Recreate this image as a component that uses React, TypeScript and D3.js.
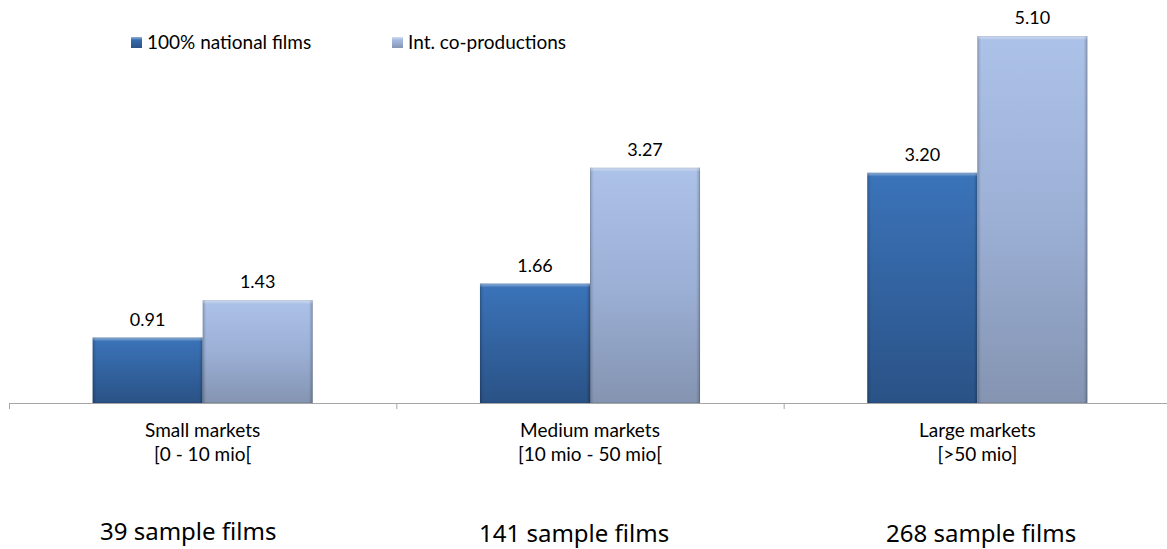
import React from "react";
import * as d3 from "d3";

const categories = ["Small markets", "Medium markets", "Large markets"];
const categoryRanges = ["[0 - 10 mio[", "[10 mio - 50 mio[", "[>50 mio]"];
const seriesNames = ["100% national films", "Int. co-productions"];
const nationalValues = [0.91, 1.66, 3.2];
const coproValues = [1.43, 3.27, 5.1];
const sampleLabels = ["39 sample films", "141 sample films", "268 sample films"];

const W = 1167;
const H = 549;
const LABEL_FONT = "Lato, 'Open Sans', sans-serif";

export default function App() {
  const x0 = d3.scaleBand<string>().domain(categories).range([9, 1171]).paddingInner(0).paddingOuter(0);
  const x1 = d3
    .scaleBand<string>()
    .domain(seriesNames)
    .range([0, x0.bandwidth()])
    .paddingInner(0)
    .paddingOuter(0.76);
  const maxV = d3.max([...nationalValues, ...coproValues]) as number;
  const y = d3.scaleLinear().domain([0, maxV]).range([403, 36]);

  const seriesValues = [nationalValues, coproValues];
  const gradIds = ["gNat", "gCo"];
  const bw = x1.bandwidth();
  const baseY = y(0);
  const ticks = [...categories.map((c) => x0(c) as number), (x0(categories[2]) as number) + x0.bandwidth()];
  const sampleX = [100, 479, 886];
  const sampleY = [540, 542, 542];

  return (
    <svg
      width={W}
      height={H}
      style={{ position: "absolute", left: 0, top: 0, background: "#fff" }}
    >
      <defs>
        <linearGradient id="gNat" x1="0" y1="0" x2="0" y2="1">
          <stop offset="0" stopColor="#3b74ba" />
          <stop offset="1" stopColor="#2a5286" />
        </linearGradient>
        <linearGradient id="gCo" x1="0" y1="0" x2="0" y2="1">
          <stop offset="0" stopColor="#adc2e8" />
          <stop offset="0.5" stopColor="#9cb0d6" />
          <stop offset="1" stopColor="#8494b1" />
        </linearGradient>
        <linearGradient id="sideShade" x1="0" y1="0" x2="1" y2="0">
          <stop offset="0" stopColor="#000" stopOpacity="0.18" />
          <stop offset="0.035" stopColor="#000" stopOpacity="0" />
          <stop offset="0.965" stopColor="#000" stopOpacity="0" />
          <stop offset="1" stopColor="#000" stopOpacity="0.22" />
        </linearGradient>
        <linearGradient id="topHi" x1="0" y1="0" x2="0" y2="1">
          <stop offset="0" stopColor="#fff" stopOpacity="0.45" />
          <stop offset="1" stopColor="#fff" stopOpacity="0" />
        </linearGradient>
      </defs>

      {/* legend */}
      {seriesNames.map((s, i) => {
        const lx = [131, 392][i];
        return (
          <g key={s}>
            <rect x={lx} y={37} width={11} height={11} fill={`url(#${gradIds[i]})`} />
            <rect x={lx} y={37} width={11} height={3} fill="url(#topHi)" />
            <text x={lx + 16} y={49} fontFamily={LABEL_FONT} fontSize={19} fill="#000">
              {s}
            </text>
          </g>
        );
      })}

      {/* bars */}
      {categories.map((c, ci) =>
        seriesNames.map((s, si) => {
          const v = seriesValues[si][ci];
          const bx = (x0(c) as number) + (x1(s) as number);
          const by = y(v);
          const bh = baseY - by;
          return (
            <g key={c + s}>
              <rect x={bx} y={by} width={bw} height={bh} fill={`url(#${gradIds[si]})`} />
              <rect x={bx} y={by} width={bw} height={bh} fill="url(#sideShade)" />
              <rect x={bx} y={by} width={bw} height={4} fill="url(#topHi)" />
              <rect
                x={bx + 0.5}
                y={by + 0.5}
                width={bw - 1}
                height={bh - 1}
                fill="none"
                stroke="#000"
                strokeOpacity={0.08}
              />
              <text
                x={bx + bw / 2}
                y={by - 12}
                textAnchor="middle"
                fontFamily={LABEL_FONT}
                fontSize={18}
                fill="#000"
              >
                {v.toFixed(2)}
              </text>
            </g>
          );
        })
      )}

      {/* axis */}
      <line x1={ticks[0]} x2={W} y1={baseY + 0.5} y2={baseY + 0.5} stroke="#a6a6a6" strokeWidth={1} />
      {ticks.map((t, i) => (
        <line key={i} x1={t + 0.5} x2={t + 0.5} y1={baseY} y2={baseY + 6} stroke="#a6a6a6" strokeWidth={1} />
      ))}

      {/* category labels */}
      {categories.map((c, i) => {
        const cx = (x0(c) as number) + x0.bandwidth() / 2;
        return (
          <g key={c}>
            <text x={cx} y={437} textAnchor="middle" fontFamily={LABEL_FONT} fontSize={19} fill="#000">
              {c}
            </text>
            <text x={cx} y={461} textAnchor="middle" fontFamily={LABEL_FONT} fontSize={19} fill="#000">
              {categoryRanges[i]}
            </text>
          </g>
        );
      })}

      {/* sample sizes */}
      {sampleLabels.map((s, i) => (
        <text key={s} x={sampleX[i]} y={sampleY[i]} fontFamily="'Noto Sans', sans-serif" fontSize={24} fill="#000">
          {s}
        </text>
      ))}
    </svg>
  );
}
